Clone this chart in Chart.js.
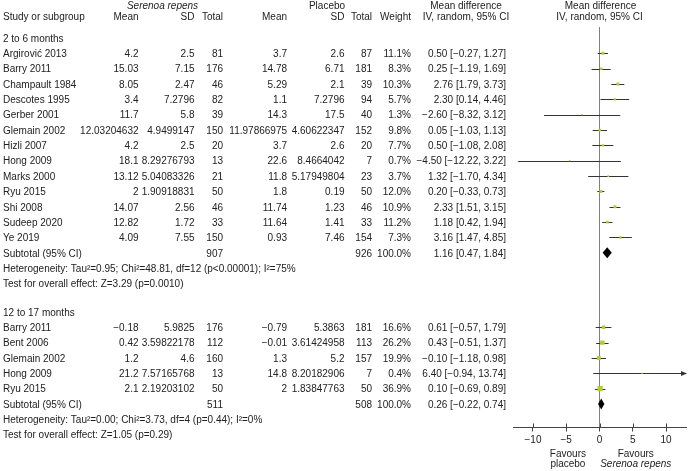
<!DOCTYPE html>
<html>
<head>
<meta charset="utf-8">
<script src="https://cdn.jsdelivr.net/npm/chart.js@4/dist/chart.umd.min.js"></script>
<style>
html, body { margin: 0; padding: 0; background: #fff; }
#wrap { width: 690px; height: 471px; position: relative; }
</style>
</head>
<body>
<div id="wrap"><canvas id="forest"></canvas></div>
<script>
'use strict';

// subgroups
const subgroups = ['2 to 6 months', '12 to 17 months'];

// studies, in table order (studyGroup = index into subgroups)
const studies = ['Argirović 2013', 'Barry 2011', 'Champault 1984', 'Descotes 1995', 'Gerber 2001',
    'Glemain 2002', 'Hizli 2007', 'Hong 2009', 'Marks 2000', 'Ryu 2015', 'Shi 2008', 'Sudeep 2020', 'Ye 2019',
    'Barry 2011', 'Bent 2006', 'Glemain 2002', 'Hong 2009', 'Ryu 2015'];
const studyGroup = [0,0,0,0,0,0,0,0,0,0,0,0,0, 1,1,1,1,1];

// Serenoa repens arm
const expMean = [4.2, 15.03, 8.05, 3.4, 11.7, 12.03204632, 4.2, 18.1, 13.12, 2, 14.07, 12.82, 4.09,
    -0.18, 0.42, 1.2, 21.2, 2.1];
const expSD = [2.5, 7.15, 2.47, 7.2796, 5.8, 4.9499147, 2.5, 8.29276793, 5.04083326, 1.90918831, 2.56, 1.72, 7.55,
    5.9825, 3.59822178, 4.6, 7.57165768, 2.19203102];
const expN = [81, 176, 46, 82, 39, 150, 20, 13, 21, 50, 46, 33, 150,
    176, 112, 160, 13, 50];

// placebo arm
const ctlMean = [3.7, 14.78, 5.29, 1.1, 14.3, 11.97866975, 3.7, 22.6, 11.8, 1.8, 11.74, 11.64, 0.93,
    -0.79, -0.01, 1.3, 14.8, 2];
const ctlSD = [2.6, 6.71, 2.1, 7.2796, 17.5, 4.60622347, 2.6, 8.4664042, 5.17949804, 0.19, 1.23, 1.41, 7.46,
    5.3863, 3.61424958, 5.2, 8.20182906, 1.83847763];
const ctlN = [87, 181, 39, 94, 40, 152, 20, 7, 23, 50, 46, 33, 154,
    181, 113, 157, 7, 50];

// weight (%) and mean difference with 95% CI
const weight = [11.1, 8.3, 10.3, 5.7, 1.3, 9.8, 7.7, 0.7, 3.7, 12.0, 10.9, 11.2, 7.3,
    16.6, 26.2, 19.9, 0.4, 36.9];
const md = [0.50, 0.25, 2.76, 2.30, -2.60, 0.05, 0.50, -4.50, 1.32, 0.20, 2.33, 1.18, 3.16,
    0.61, 0.43, -0.10, 6.40, 0.10];
const ciLow = [-0.27, -1.19, 1.79, 0.14, -8.32, -1.03, -1.08, -12.22, -1.70, -0.33, 1.51, 0.42, 1.47,
    -0.57, -0.51, -1.18, -0.94, -0.69];
const ciHigh = [1.27, 1.69, 3.73, 4.46, 3.12, 1.13, 2.08, 3.22, 4.34, 0.73, 3.15, 1.94, 4.85,
    1.79, 1.37, 0.98, 13.74, 0.89];

// subtotals per subgroup
const subExpN = [907, 511];
const subCtlN = [926, 508];
const subMd = [1.16, 0.26];
const subLow = [0.47, -0.22];
const subHigh = [1.84, 0.74];
const hetTau2 = ['0.95', '0.00'];
const hetChi2 = ['48.81', '3.73'];
const hetDf = [12, 4];
const hetP = ['<0.00001', '=0.44'];
const hetI2 = [75, 0];
const testZ = ['3.29', '1.05'];
const testP = ['0.0010', '0.29'];

const xTicks = [-10, -5, 0, 5, 10];

// ---- layout ----
const FONT = '"Liberation Sans", Arial, sans-serif';
const TXT = '#222';
const GROUP_GAP = 1.85;
const col = { name: 3, expMean: 138.5, expSD: 194.5, expN: 223, ctlMean: 287, ctlSD: 344.5,
    ctlN: 372, weight: 411, ci: 506 };

const minus = s => String(s).replace('-', '\u2212');
const f2 = v => minus(v.toFixed(2));
const ciText = (m, l, h) => f2(m) + ' [' + f2(l) + ', ' + f2(h) + ']';

// row index for every line of the table
const studyRow = [];
const groupRows = [];
let r = 0;
subgroups.forEach((g, gi) => {
    const rows = { label: r };
    r += 1;
    studies.forEach((s, i) => {
        if (studyGroup[i] === gi) { studyRow[i] = r; r += 1; }
    });
    rows.subtotal = r;
    rows.het = r + 1;
    rows.test = r + 2;
    r += 2 + GROUP_GAP;
    groupRows.push(rows);
});

function text(ctx, s, x, y, align, italic) {
    ctx.font = (italic ? 'italic ' : '') + '10px ' + FONT;
    ctx.textAlign = align || 'left';
    ctx.textBaseline = 'middle';
    ctx.fillStyle = TXT;
    ctx.fillText(s, x, y);
}

const forestPlugin = {
    id: 'forest',
    beforeDatasetsDraw(chart) {
        const ctx = chart.ctx;
        const xs = chart.scales.x, ys = chart.scales.y;
        ctx.save();
        ctx.strokeStyle = '#333';
        ctx.fillStyle = '#333';
        ctx.lineWidth = 1;
        studies.forEach((s, i) => {
            const y = Math.round(ys.getPixelForValue(studyRow[i])) + 0.5;
            const x1 = xs.getPixelForValue(Math.max(ciLow[i], xs.min));
            const x2 = xs.getPixelForValue(Math.min(ciHigh[i], xs.max));
            ctx.beginPath();
            ctx.moveTo(x1, y);
            ctx.lineTo(x2, y);
            ctx.stroke();
            if (ciHigh[i] > xs.max) {
                ctx.beginPath();
                ctx.moveTo(x2 + 1, y);
                ctx.lineTo(x2 - 5, y - 2.5);
                ctx.lineTo(x2 - 5, y + 2.5);
                ctx.closePath();
                ctx.fill();
            }
        });
        ctx.restore();
    },
    afterDatasetsDraw(chart) {
        const ctx = chart.ctx;
        const xs = chart.scales.x, ys = chart.scales.y;
        const area = chart.chartArea;
        ctx.save();

        // subtotal diamonds
        ctx.fillStyle = '#000';
        groupRows.forEach((rows, gi) => {
            const y = ys.getPixelForValue(rows.subtotal);
            ctx.beginPath();
            ctx.moveTo(xs.getPixelForValue(subLow[gi]), y);
            ctx.lineTo(xs.getPixelForValue(subMd[gi]), y - 5.5);
            ctx.lineTo(xs.getPixelForValue(subHigh[gi]), y);
            ctx.lineTo(xs.getPixelForValue(subMd[gi]), y + 5.5);
            ctx.closePath();
            ctx.fill();
        });

        // tick marks also reach above the axis line
        ctx.strokeStyle = '#444';
        ctx.lineWidth = 1;
        xTicks.forEach(v => {
            const x = Math.round(xs.getPixelForValue(v)) + 0.5;
            ctx.beginPath();
            ctx.moveTo(x, area.bottom - 4);
            ctx.lineTo(x, area.bottom);
            ctx.stroke();
        });

        // favours labels
        const fy = area.bottom + 27;
        text(ctx, 'Favours', xs.getPixelForValue(-4.75), fy, 'center');
        text(ctx, 'placebo', xs.getPixelForValue(-4.75), fy + 10, 'center');
        text(ctx, 'Favours', xs.getPixelForValue(5.45), fy, 'center');
        text(ctx, 'Serenoa repens', xs.getPixelForValue(5.45), fy + 10, 'center', true);

        // table header
        text(ctx, 'Serenoa repens', 162.5, 6, 'center', true);
        text(ctx, 'Placebo', 327, 6, 'center');
        text(ctx, 'Mean difference', 466, 6.5, 'center');
        text(ctx, 'Mean difference', xs.getPixelForValue(0) + 1, 6.5, 'center');
        const hy = 17.5;
        text(ctx, 'Study or subgroup', col.name, hy);
        text(ctx, 'Mean', col.expMean, hy, 'right');
        text(ctx, 'SD', col.expSD, hy, 'right');
        text(ctx, 'Total', col.expN, hy, 'right');
        text(ctx, 'Mean', col.ctlMean, hy, 'right');
        text(ctx, 'SD', col.ctlSD, hy, 'right');
        text(ctx, 'Total', col.ctlN, hy, 'right');
        text(ctx, 'Weight', col.weight, hy, 'right');
        text(ctx, 'IV, random, 95% CI', 466, hy, 'center');
        text(ctx, 'IV, random, 95% CI', xs.getPixelForValue(0), hy, 'center');

        // table body
        const rowY = v => ys.getPixelForValue(v) + 1;
        studies.forEach((s, i) => {
            const y = rowY(studyRow[i]);
            text(ctx, s, col.name, y);
            text(ctx, minus(expMean[i]), col.expMean, y, 'right');
            text(ctx, String(expSD[i]), col.expSD, y, 'right');
            text(ctx, String(expN[i]), col.expN, y, 'right');
            text(ctx, minus(ctlMean[i]), col.ctlMean, y, 'right');
            text(ctx, String(ctlSD[i]), col.ctlSD, y, 'right');
            text(ctx, String(ctlN[i]), col.ctlN, y, 'right');
            text(ctx, weight[i].toFixed(1) + '%', col.weight, y, 'right');
            text(ctx, ciText(md[i], ciLow[i], ciHigh[i]), col.ci, y, 'right');
        });
        groupRows.forEach((rows, gi) => {
            text(ctx, subgroups[gi], col.name, rowY(rows.label));
            const y = rowY(rows.subtotal);
            text(ctx, 'Subtotal (95% CI)', col.name, y);
            text(ctx, String(subExpN[gi]), col.expN, y, 'right');
            text(ctx, String(subCtlN[gi]), col.ctlN, y, 'right');
            text(ctx, '100.0%', col.weight, y, 'right');
            text(ctx, ciText(subMd[gi], subLow[gi], subHigh[gi]), col.ci, y, 'right');
            text(ctx, 'Heterogeneity: Tau\u00b2=' + hetTau2[gi] + '; Chi\u00b2=' + hetChi2[gi] + ', df=' + hetDf[gi] +
                ' (p' + hetP[gi] + '); I\u00b2=' + hetI2[gi] + '%', col.name, rowY(rows.het));
            text(ctx, 'Test for overall effect: Z=' + testZ[gi] + ' (p=' + testP[gi] + ')', col.name, rowY(rows.test));
        });
        ctx.restore();
    }
};

const forestCtx = document.getElementById('forest').getContext('2d');
const forestChart = new Chart(forestCtx, {
    type: 'scatter',
    data: {
        datasets: [{
            data: studies.map((s, i) => ({ x: md[i], y: studyRow[i] })),
            pointStyle: 'rect',
            pointRadius: weight.map(w => Math.max(0.9, 0.62 * Math.sqrt(w))),
            backgroundColor: '#abd035',
            borderWidth: 0
        }]
    },
    options: {
        responsive: true,
        maintainAspectRatio: false,
        animation: false,
        events: [],
        layout: { padding: { left: 513, right: 2, top: 27, bottom: 0 } },
        plugins: { legend: { display: false }, tooltip: { enabled: false } },
        scales: {
            x: {
                type: 'linear',
                min: -13,
                max: 13,
                afterBuildTicks: s => { s.ticks = xTicks.map(v => ({ value: v })); },
                afterFit: s => { s.height = 43.5; },
                ticks: {
                    callback: v => minus(v),
                    font: { family: FONT, size: 10 },
                    color: TXT,
                    padding: 3,
                    maxRotation: 0
                },
                grid: {
                    color: c => (c.tick && c.tick.value === 0) ? '#7f7f7f' : 'rgba(0,0,0,0)',
                    tickColor: '#444',
                    tickLength: 4
                },
                border: { color: '#444' }
            },
            y: {
                type: 'linear',
                display: false,
                reverse: true,
                min: -0.713,
                max: 25.38
            }
        }
    },
    plugins: [forestPlugin]
});
</script>
</body>
</html>
